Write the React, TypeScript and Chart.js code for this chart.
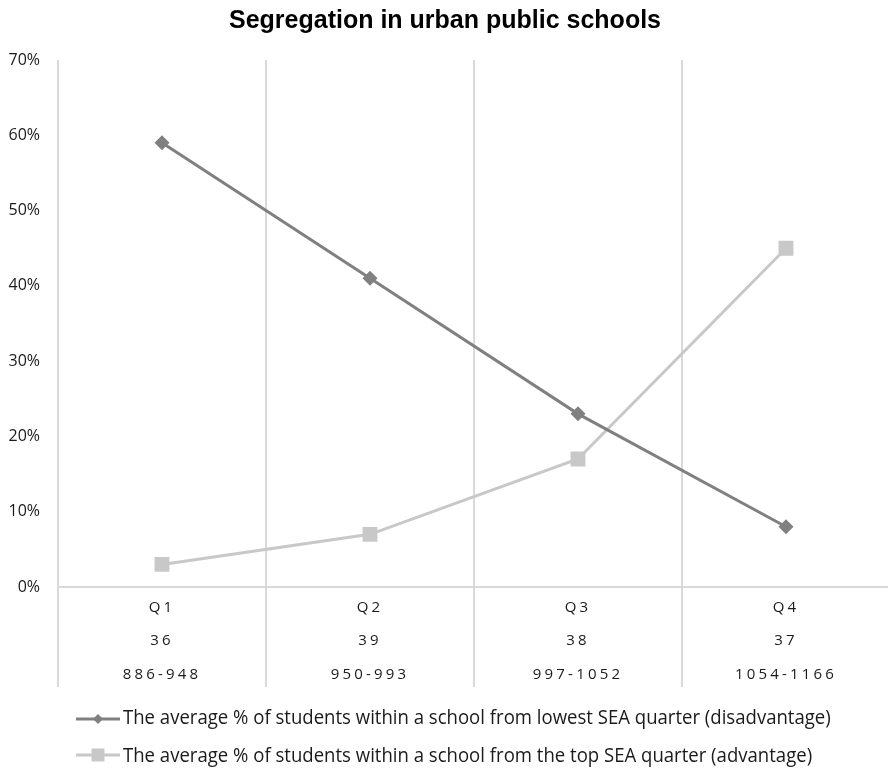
import React, { useEffect, useRef } from "react";
import { Chart, registerables, CategoryScale } from "chart.js";

// Quarter categories: quarter name, number of schools, SEA score range
const quarters = ["Q1", "Q2", "Q3", "Q4"];
const schoolCounts = ["36", "39", "38", "37"];
const seaRanges = ["886-948", "950-993", "997-1052", "1054-1166"];

// Average share of students (%) per school
const lowestQuarterShare = [59, 41, 23, 8];
const topQuarterShare = [3, 7, 17, 45];

const yTicks = [0, 10, 20, 30, 40, 50, 60, 70];

const seriesNames = [
  "The average % of students within a school from lowest SEA quarter (disadvantage)",
  "The average % of students within a school from the top SEA quarter (advantage)",
];

const DARK = "#808080";
const LIGHT = "#c8c8c8";
const GRID = "#d9d9d9";

// Category axis that draws its labels with extra letter spacing
class SpacedCategoryScale extends CategoryScale {
  static id = "spacedCategory";
  drawLabels(area: any) {
    const ctx: any = this.ctx;
    ctx.save();
    ctx.letterSpacing = "3.2px";
    super.drawLabels(area);
    ctx.restore();
  }
}

Chart.register(...registerables, SpacedCategoryScale);

// Two-row key under the axis: line sample with marker, then the series name
const bottomKey = {
  id: "bottomKey",
  afterDraw(chart: any) {
    const ctx = chart.ctx as CanvasRenderingContext2D;
    const rows = [
      { base: 724, mid: 719 },
      { base: 761.5, mid: 755 },
    ];
    chart.data.datasets.forEach((ds: any, i: number) => {
      const r = rows[i];
      ctx.save();
      ctx.strokeStyle = ds.borderColor;
      ctx.lineWidth = 3;
      ctx.beginPath();
      ctx.moveTo(76, r.mid);
      ctx.lineTo(120, r.mid);
      ctx.stroke();
      ctx.fillStyle = ds.borderColor;
      ctx.beginPath();
      if (ds.pointStyle === "rectRot") {
        const h = 5;
        ctx.moveTo(98, r.mid - h);
        ctx.lineTo(98 + h, r.mid);
        ctx.lineTo(98, r.mid + h);
        ctx.lineTo(98 - h, r.mid);
        ctx.closePath();
      } else {
        ctx.rect(98 - 6.5, r.mid - 6.5, 13, 13);
      }
      ctx.fill();
      ctx.fillStyle = "#1a1a1a";
      ctx.font = '20px "Open Sans"';
      ctx.textBaseline = "alphabetic";
      ctx.textAlign = "left";
      ctx.translate(123, r.base);
      ctx.scale(0.928, 1);
      ctx.fillText(ds.label, 0, 0);
      ctx.restore();
    });
  },
};

export default function App() {
  const canvasRef = useRef<HTMLCanvasElement | null>(null);

  useEffect(() => {
    const canvas = canvasRef.current;
    if (!canvas) return;
    const labels = quarters.map((q, i) => [q, schoolCounts[i], seaRanges[i]]);
    const chart = new Chart(canvas, {
      type: "line",
      data: {
        labels,
        datasets: [
          {
            label: seriesNames[0],
            data: lowestQuarterShare,
            borderColor: DARK,
            backgroundColor: DARK,
            pointBackgroundColor: DARK,
            pointBorderColor: DARK,
            pointBorderWidth: 0,
            pointStyle: "rectRot",
            pointRadius: 7.5,
            borderWidth: 3,
            tension: 0,
          },
          {
            label: seriesNames[1],
            data: topQuarterShare,
            borderColor: LIGHT,
            backgroundColor: LIGHT,
            pointBackgroundColor: LIGHT,
            pointBorderColor: LIGHT,
            pointBorderWidth: 0,
            pointStyle: "rect",
            pointRadius: 10.5,
            borderWidth: 3,
            tension: 0,
          },
        ],
      },
      options: {
        responsive: false,
        animation: false,
        devicePixelRatio: 1,
        layout: { autoPadding: false, padding: { left: 0, right: 0, top: 0, bottom: 81 } },
        plugins: {
          legend: { display: false },
          tooltip: { enabled: false },
          title: {
            display: true,
            text: "Segregation in urban public schools",
            color: "#000",
            font: { family: '"Liberation Sans", Arial, sans-serif', size: 25, weight: "bold", lineHeight: 1.2 },
            padding: { top: 6.5, bottom: 23.5 },
          },
        },
        scales: {
          x: {
            type: "spacedCategory" as any,
            offset: true,
            grid: {
              display: true,
              offset: true,
              color: GRID,
              lineWidth: 2,
              drawTicks: true,
              tickLength: 100,
              tickColor: GRID,
              tickWidth: 2,
            },
            border: { display: true, color: GRID, width: 2 },
            ticks: {
              color: "#1a1a1a",
              padding: -96,
              autoSkip: false,
              maxRotation: 0,
              font: { family: '"Open Sans", sans-serif', size: 15, lineHeight: 2.23 },
            },
            afterFit(scale: any) {
              scale.height = 100;
            },
          } as any,
          y: {
            min: 0,
            max: 70,
            afterBuildTicks(scale: any) {
              scale.ticks = yTicks.map((v) => ({ value: v }));
            },
            grid: { display: false, drawTicks: false },
            border: { display: false },
            ticks: {
              color: "#1a1a1a",
              padding: 18,
              font: { family: '"Open Sans", sans-serif', size: 16 },
              callback: (v: any) => `${v}%`,
            },
            afterFit(scale: any) {
              scale.width = 58;
            },
          },
        },
      },
      plugins: [bottomKey],
    });
    return () => chart.destroy();
  }, []);

  return (
    <div
      style={{
        position: "fixed",
        top: 0,
        left: 0,
        width: 888,
        height: 768,
        overflow: "hidden",
        background: "#fff",
      }}
    >
      <canvas ref={canvasRef} width={890} height={768} style={{ display: "block" }} />
    </div>
  );
}
